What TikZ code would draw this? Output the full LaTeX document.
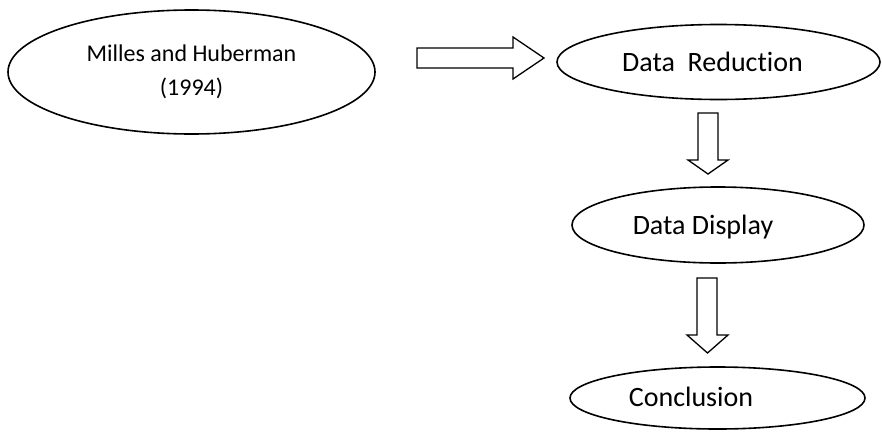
\documentclass[tikz,border=0pt]{standalone}
\usepackage{fontspec}
\setmainfont{Carlito}[Ligatures=NoCommon]
\usetikzlibrary{shapes.geometric}
\begin{document}
\begin{tikzpicture}[x=1pt,y=-1pt,
  oval/.style={ellipse, draw=black, line width=1.6pt, fill=white, inner sep=0pt},
  blockarrow/.style={draw=black, line width=1.3pt, fill=white, line join=miter},
  lbl/.style={font=\fontsize{28}{34}\selectfont, anchor=base, inner sep=0pt}]
\useasboundingbox (0,0) rectangle (882,434);
% source
\node[oval, minimum width=367pt, minimum height=124pt,
      font=\fontsize{24}{34}\selectfont, align=center] (src) at (191.5,72)
      {Milles and Huberman\\(1994)};
% steps
\node[oval, minimum width=323pt, minimum height=75pt] (red) at (718.5,62) {};
\node[lbl] (redt) at (712.5,71) {Data~~Reduction};
\node[oval, minimum width=292pt, minimum height=76pt] (disp) at (718,225) {};
\node[lbl] (dispt) at (703,234) {Data Display};
\node[oval, minimum width=295pt, minimum height=62pt] (conc) at (717.5,398) {};
\node[lbl] (conct) at (691,406) {Conclusion};
% block arrows
\draw[blockarrow] (417,48) -- (513,48) -- (513,37) -- (544,58) -- (513,79) -- (513,68) -- (417,68) -- cycle;
\draw[blockarrow] (698,113) -- (718,113) -- (718,160) -- (728,160) -- (708,174) -- (688,160) -- (698,160) -- cycle;
\draw[blockarrow] (697,278) -- (717,278) -- (717,335) -- (728,335) -- (707.5,353) -- (687,335) -- (697,335) -- cycle;
\end{tikzpicture}
\end{document}
